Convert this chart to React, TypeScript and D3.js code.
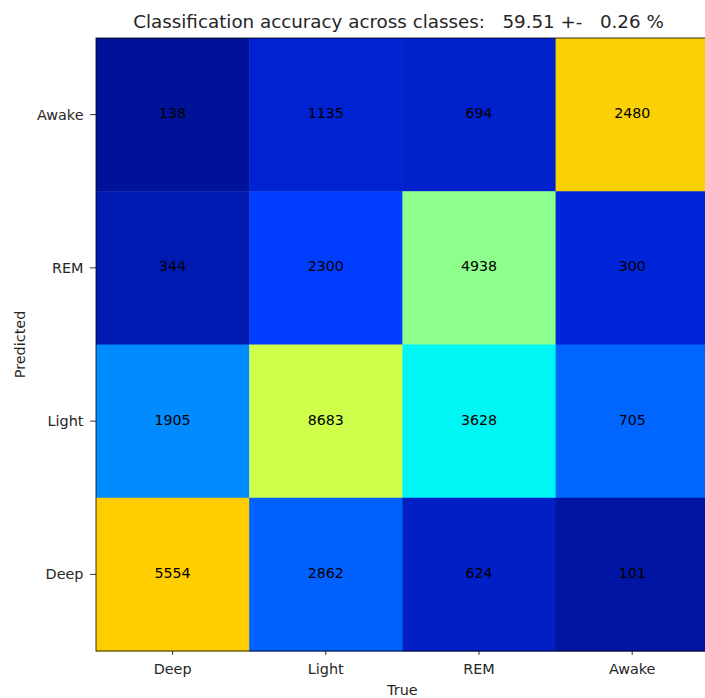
import React from "react";
import * as d3 from "d3";

const trueClasses = ["Deep", "Light", "REM", "Awake"];
const predClasses = ["Awake", "REM", "Light", "Deep"]; // top to bottom
// counts[row][col], rows = predicted (top->bottom), cols = true
const rowAwake = [138, 1135, 694, 2480];
const rowREM = [344, 2300, 4938, 300];
const rowLight = [1905, 8683, 3628, 705];
const rowDeep = [5554, 2862, 624, 101];
const counts = [rowAwake, rowREM, rowLight, rowDeep];
const titleText = "Classification accuracy across classes:   59.51 +-   0.26 %";

const colorStops = [0, 0.1, 0.155, 0.19, 0.24, 0.367, 0.5, 0.58, 0.7, 0.89, 1];
const colorValues = [
  "rgb(0,15,135)", "rgb(0,40,232)", "rgb(0,62,255)", "rgb(0,96,255)", "rgb(0,140,255)",
  "rgb(0,245,245)", "rgb(140,255,140)", "rgb(205,255,75)", "rgb(255,205,0)", "rgb(255,20,0)", "rgb(128,0,0)",
];

export default function App() {
  const W = 705, H = 698;
  const left = 96, top = 38, cellW = 153.2, cellH = 153.25;
  const right = left + cellW * 4, bottom = top + cellH * 4;
  const x = d3.scaleBand<string>().domain(trueClasses).range([left, right]);
  const y = d3.scaleBand<string>().domain(predClasses).range([top, bottom]);
  const color = d3.scaleLinear<string>().domain(colorStops).range(colorValues).interpolate(d3.interpolateRgb).clamp(true);
  const colSums = trueClasses.map((_, j) => d3.sum(counts, (r) => r[j]));
  const font = "DejaVu Sans, sans-serif";
  return (
    <svg width={W} height={H} style={{ position: "absolute", left: 0, top: 0 }} fontFamily={font}>
      <rect width={W} height={H} fill="#fff" />
      {counts.map((row, i) =>
        row.map((v, j) => (
          <g key={`${i}-${j}`}>
            <rect x={x(trueClasses[j])} y={y(predClasses[i])} width={x.bandwidth() + 0.5} height={y.bandwidth() + 0.5}
              fill={color(v / colSums[j])} />
            <text x={x(trueClasses[j])! + x.bandwidth() / 2} y={y(predClasses[i])! + y.bandwidth() / 2 - 1.5}
              textAnchor="middle" dominantBaseline="central" fontSize={14.2} fill="#000">{v}</text>
          </g>
        ))
      )}
      <rect x={left} y={top} width={right - left} height={bottom - top} fill="none" stroke="#000" strokeWidth={0.8} />
      {trueClasses.map((c) => {
        const cx = x(c)! + x.bandwidth() / 2;
        return (
          <g key={c}>
            <line x1={cx} x2={cx} y1={bottom} y2={bottom + 4} stroke="#000" strokeWidth={0.8} />
            <text x={cx} y={bottom + 23} textAnchor="middle" fontSize={14.4} fill="#262626">{c}</text>
          </g>
        );
      })}
      {predClasses.map((c) => {
        const cy = y(c)! + y.bandwidth() / 2;
        return (
          <g key={c}>
            <line x1={left - 6} x2={left} y1={cy} y2={cy} stroke="#000" strokeWidth={0.8} />
            <text x={83.5} y={cy} textAnchor="end" dominantBaseline="central" fontSize={14.4} fill="#262626">{c}</text>
          </g>
        );
      })}
      <text x={(left + right) / 2} y={695} textAnchor="middle" fontSize={14.4} fill="#262626">True</text>
      <text transform={`translate(25,${(top + bottom) / 2}) rotate(-90)`} textAnchor="middle" fontSize={14.4} fill="#262626">Predicted</text>
      <text x={398.5} y={27.7} textAnchor="middle" fontSize={18.3} fill="#262626" style={{ whiteSpace: "pre" }} xmlSpace="preserve">{titleText}</text>
    </svg>
  );
}
